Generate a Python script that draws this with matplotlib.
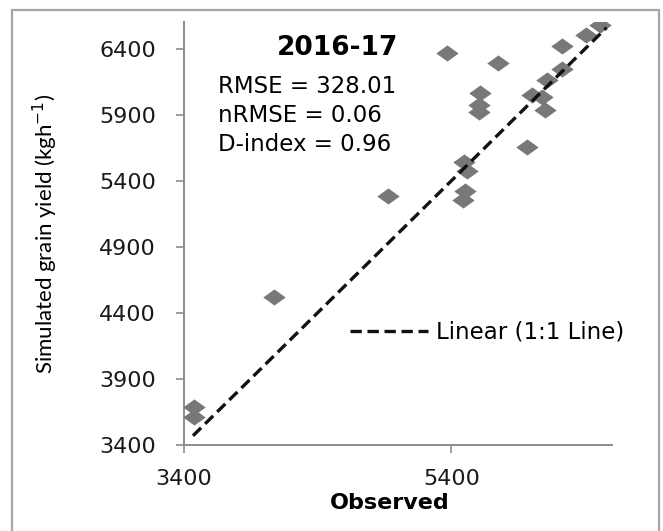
import matplotlib
matplotlib.use("Agg")
import matplotlib.pyplot as plt
from matplotlib.patches import Rectangle
from matplotlib.path import Path

plt.rcParams['font.family'] = ['DejaVu Sans']

# observed vs simulated grain yield (kg/ha)
observed = [6512, 6404, 6226, 5369, 5748, 6226, 6114, 6002, 6076, 6101, 5615,
            5603, 5603, 5969, 5496, 5516, 5503, 5490, 4924, 4073, 3475, 3475]
simulated = [6583, 6504, 6420, 6364, 6289, 6250, 6163, 6050, 6032, 5936, 6062,
             5974, 5923, 5654, 5545, 5474, 5325, 5255, 5283, 4520, 3690, 3614]
line_x = [3470, 6560]
line_y = [3470, 6560]

season = "2016-17"
stats = ["RMSE = 328.01", "nRMSE = 0.06", "D-index = 0.96"]
yticks = [3400, 3900, 4400, 4900, 5400, 5900, 6400]
xticks = [3400, 5400]

fig = plt.figure(figsize=(6.63, 5.31), dpi=100)
ax = fig.add_axes([0.277, 0.162, 0.646, 0.796])

# outer chart border
fig.patches.append(Rectangle((12 / 663, -0.05), 647 / 663, 1.05 - 10 / 531,
                             transform=fig.transFigure, fill=False,
                             edgecolor='#a6a6a6', linewidth=1.6))

# slightly flattened diamond like in the picture
diamond = Path([(-1, 0), (0, 0.72), (1, 0), (0, -0.72), (-1, 0)])
ax.scatter(observed, simulated, marker=diamond, s=260, color='#787878',
           linewidths=0, zorder=3)
ax.plot(line_x, line_y, '--', color='#111111', lw=2.4, dashes=(3.4, 1.7),
        label='Linear (1:1 Line)', zorder=4)

ax.set_xlim(3400, 6600)
ax.set_ylim(3400, 6600)
ax.set_xticks(xticks)
ax.set_yticks(yticks)
ax.tick_params(axis='both', direction='out', length=6, width=1.2,
               color='#8c8c8c', labelsize=16, labelcolor='#1a1a1a')
ax.tick_params(axis='y', pad=14)
ax.tick_params(axis='x', pad=11)

for s in ['top', 'right']:
    ax.spines[s].set_visible(False)
for s in ['left', 'bottom']:
    ax.spines[s].set_color('#8c8c8c')
    ax.spines[s].set_linewidth(1.4)

ax.set_xlabel('Observed', fontsize=16, fontweight='bold')
ax.xaxis.set_label_coords(0.482, -0.114)
ax.set_ylabel('Simulated grain yield (kgh$^{-1}$)', fontsize=16,
              family=['Lato', 'DejaVu Sans'])
ax.yaxis.set_label_coords(-0.288, 0.5)

ax.text(0.36, 0.94, season, transform=ax.transAxes, fontsize=19,
        fontweight='bold', ha='center', va='center')
for i, t in enumerate(stats):
    ax.text(0.08, 0.847 - i * 0.0686, t, transform=ax.transAxes, fontsize=16.5,
            ha='left', va='center')

ax.legend(loc='center left', bbox_to_anchor=(0.388, 0.267), frameon=False,
          fontsize=16.5, handlelength=3.4, handletextpad=0.35, borderpad=0,
          borderaxespad=0)

fig.savefig('out.png', dpi=100)
